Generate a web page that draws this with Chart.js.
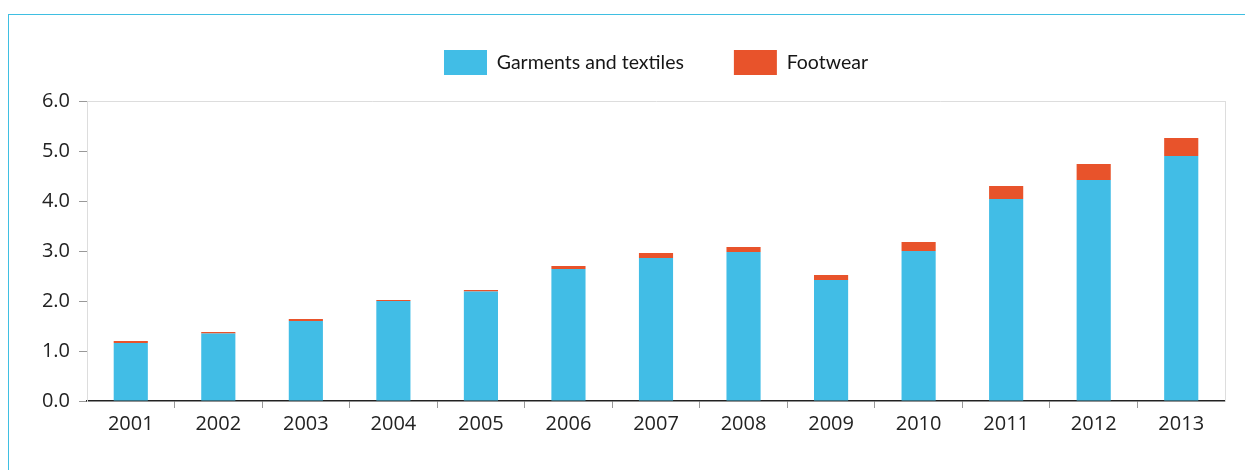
<!DOCTYPE html>
<html>
<head>
<meta charset="utf-8">
<script src="https://cdn.jsdelivr.net/npm/chart.js@4.4.0/dist/chart.umd.min.js"></script>
<style>
  html, body { margin: 0; padding: 0; background: #fff; }
  #wrap { position: relative; width: 1245px; height: 470px; overflow: hidden; }
  #frame { position: absolute; left: 8px; top: 14px; width: 1300px; height: 500px;
           border-top: 1.5px solid #3fbfe2; border-left: 1.5px solid #3fbfe2; }
  #grafica { position: absolute; left: 0; top: 0; }
</style>
</head>
<body>
<div id="wrap">
  <div id="frame"></div>
  <canvas id="grafica" width="1245" height="470"></canvas>
</div>
<script>
const years = ["2001", "2002", "2003", "2004", "2005", "2006", "2007",
               "2008", "2009", "2010", "2011", "2012", "2013"];
const garments = [1.16, 1.35, 1.60, 2.00, 2.19, 2.64, 2.86, 2.98, 2.42, 3.00, 4.04, 4.42, 4.90];
const footwear = [0.04, 0.03, 0.04, 0.02, 0.03, 0.06, 0.10, 0.10, 0.10, 0.18, 0.26, 0.32, 0.36];
const yTicks = [0, 1, 2, 3, 4, 5, 6];

const azul = '#41bde6';
const naranja = '#e8532b';

// squeeze the legend box so the plot starts where the original does
const legendFit = {
    id: 'legendFit',
    beforeInit(chart) {
        const orig = chart.legend.fit;
        chart.legend.fit = function () {
            orig.bind(chart.legend)();
            this.height = 101;
        };
    }
};

new Chart(document.getElementById('grafica'), {
    type: 'bar',
    data: {
        labels: years,
        datasets: [
            { label: 'Garments and textiles', data: garments, backgroundColor: azul, borderWidth: 0 },
            { label: 'Footwear', data: footwear, backgroundColor: naranja, borderWidth: 0 }
        ]
    },
    options: {
        responsive: false,
        animation: false,
        layout: { padding: { left: 0, right: 20, top: 0, bottom: 0 } },
        datasets: { bar: { barPercentage: 0.39, categoryPercentage: 1 } },
        plugins: {
            tooltip: { enabled: false },
            legend: {
                position: 'top',
                fullSize: false,
                labels: {
                    boxWidth: 43,
                    boxHeight: 25,
                    padding: 50,
                    color: '#161616',
                    font: { family: 'Lato', size: 19.5 }
                }
            }
        },
        scales: {
            x: {
                stacked: true,
                afterFit(scale) { scale.height = 69; },
                grid: {
                    drawOnChartArea: false,
                    drawTicks: true,
                    tickLength: 7,
                    tickColor: (c) => (c.index > 0 ? '#999' : 'rgba(0,0,0,0)')
                },
                border: { color: '#222', width: 1.5 },
                ticks: { color: '#222', padding: 4, font: { family: 'Open Sans', size: 20 } }
            },
            y: {
                stacked: true,
                min: 0,
                max: 6,
                afterFit(scale) { scale.width = 87; },
                afterBuildTicks(scale) { scale.ticks = yTicks.map(v => ({ value: v })); },
                grid: {
                    color: (c) => (c.tick && c.tick.value === 6 ? '#dddddd' : 'rgba(0,0,0,0)'),
                    tickLength: 8,
                    tickColor: '#999'
                },
                border: { color: '#dddddd', width: 1 },
                ticks: {
                    color: '#222',
                    padding: 9,
                    font: { family: 'Open Sans', size: 20 },
                    callback: (v) => Number(v).toFixed(1)
                }
            },
            y2: {
                position: 'right',
                min: 0,
                max: 6,
                afterFit(scale) { scale.width = 0; },
                grid: { display: false },
                ticks: { display: false },
                border: { color: '#dddddd', width: 1 }
            }
        }
    },
    plugins: [legendFit]
});
</script>
</body>
</html>
